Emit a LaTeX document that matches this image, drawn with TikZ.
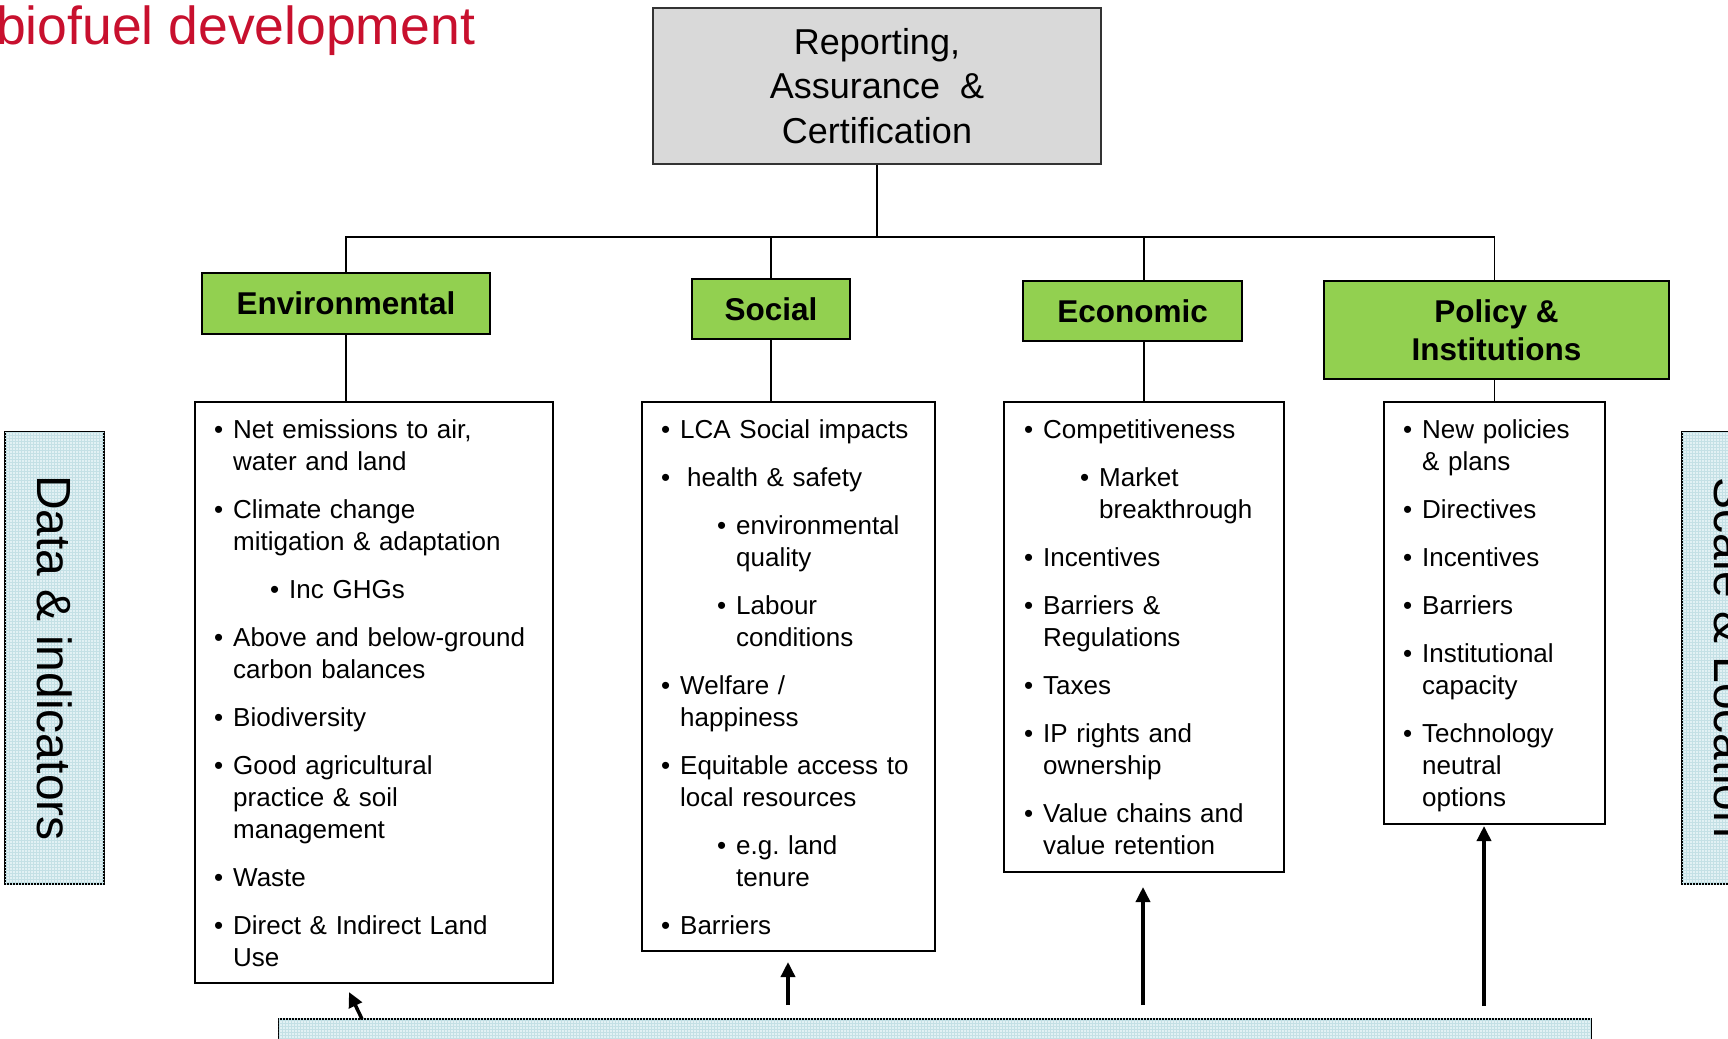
\documentclass[tikz,border=0pt]{standalone}
\usepackage{fontspec}
\setmainfont{Liberation Sans}
\usepackage{tikz}
\usetikzlibrary{positioning,calc,arrows.meta,patterns}

\definecolor{titlered}{RGB}{200,16,46}
\definecolor{headgreen}{RGB}{146,208,80}
\definecolor{topgray}{RGB}{217,217,217}
\definecolor{paleblue}{RGB}{226,241,244}
\definecolor{gridblue}{RGB}{196,224,229}

\newcommand{\lbul}{\leavevmode\llap{\textbullet\hspace{10pt}}}
\newcommand{\subind}{\hspace*{56pt}}

\tikzset{
  topbox/.style={draw=black!80, fill=topgray, line width=1.5pt, align=center,
    font=\fontsize{36}{44.5}\selectfont, inner sep=0pt},
  headbox/.style={draw, fill=headgreen, line width=1.5pt, align=center,
    font=\fontsize{31.5}{38}\selectfont\bfseries, inner sep=0pt},
  listbox/.style={draw, line width=1.5pt, inner sep=0pt, anchor=north west},
  listtext/.style={anchor=base west, inner sep=0pt, text width=330pt, align=left,
    font=\fontsize{26}{32}\selectfont},
  sidebox/.style={draw, line width=1.5pt, fill=paleblue,
    postaction={pattern=grid, pattern color=gridblue}, inner sep=0pt,
    font=\fontsize{48}{56}\selectfont},
  link/.style={line width=1.5pt},
  uparrow/.style={line width=3.5pt, -{Triangle[length=15pt,width=14pt]}},
}

\begin{document}
\begin{tikzpicture}[x=1pt, y=-1pt]
    \useasboundingbox (0,0) rectangle (1728,1038);
    \clip (0,0) rectangle (1728,1038);

    % Title
    \node[anchor=base west, inner sep=0pt, text=titlered,
      font=\fontsize{53.5}{60}\selectfont] (title) at (-4,45) {biofuel development};

    % Top box
    \node[topbox, minimum width=448pt, minimum height=156pt] (report) at (877,86)
      {Reporting,\\Assurance\ \ \&\\Certification};

    % Headers
    \node[headbox, minimum width=288pt, minimum height=61pt] (envhead) at (346,303.5) {Environmental};
    \node[headbox, minimum width=158pt, minimum height=60pt] (sochead) at (771,309) {Social};
    \node[headbox, minimum width=219pt, minimum height=60pt] (ecohead) at (1132.5,311) {Economic};
    \node[headbox, minimum width=345pt, minimum height=98pt] (polhead) at (1496.5,330) {Policy \&\\Institutions};

    % List boxes
    \node[listbox, minimum width=358pt, minimum height=581pt] (envlist) at (194,401) {};
    \node[listbox, minimum width=293pt, minimum height=549pt] (soclist) at (641,401) {};
    \node[listbox, minimum width=280pt, minimum height=470pt] (ecolist) at (1003,401) {};
    \node[listbox, minimum width=221pt, minimum height=422pt] (pollist) at (1383,401) {};

    % Environmental
    \node[listtext] (envtext) at ([shift={(39,37)}]envlist.north west) {%
      \lbul Net emissions to air,\\
      water and land\\[16pt]
      \lbul Climate change\\
      mitigation \& adaptation\\[16pt]
      \subind\lbul Inc GHGs\\[16pt]
      \lbul Above and below-ground\\
      carbon balances\\[16pt]
      \lbul Biodiversity\\[16pt]
      \lbul Good agricultural\\
      practice \& soil\\
      management\\[16pt]
      \lbul Waste\\[16pt]
      \lbul Direct \& Indirect Land\\
      Use};

    % Social
    \node[listtext] (soctext) at ([shift={(39,37)}]soclist.north west) {%
      \lbul LCA Social impacts\\[16pt]
      \lbul\hspace*{7pt}health \& safety\\[16pt]
      \subind\lbul environmental\\
      \subind quality\\[16pt]
      \subind\lbul Labour\\
      \subind conditions\\[16pt]
      \lbul Welfare /\\
      happiness\\[16pt]
      \lbul Equitable access to\\
      local resources\\[16pt]
      \subind\lbul e.g.\ land\\
      \subind tenure\\[16pt]
      \lbul Barriers};

    % Economic
    \node[listtext] (ecotext) at ([shift={(40,37)}]ecolist.north west) {%
      \lbul Competitiveness\\[16pt]
      \subind\lbul Market\\
      \subind breakthrough\\[16pt]
      \lbul Incentives\\[16pt]
      \lbul Barriers \&\\
      Regulations\\[16pt]
      \lbul Taxes\\[16pt]
      \lbul IP rights and\\
      ownership\\[16pt]
      \lbul Value chains and\\
      value retention};

    % Policy
    \node[listtext] (poltext) at ([shift={(39,37)}]pollist.north west) {%
      \lbul New policies\\
      \& plans\\[16pt]
      \lbul Directives\\[16pt]
      \lbul Incentives\\[16pt]
      \lbul Barriers\\[16pt]
      \lbul Institutional\\
      capacity\\[16pt]
      \lbul Technology\\
      neutral\\
      options};

    % Side and bottom boxes
    \node[sidebox, rotate=-90, minimum width=452pt, minimum height=99pt] (data) at (54.5,658) {Data \& indicators};
    \node[sidebox, rotate=-90, minimum width=452pt, minimum height=99pt] (scaleloc) at (1731.5,658) {Scale \& Location};
    \node[sidebox, anchor=north west, minimum width=1312pt, minimum height=80pt] (base) at (278,1018) {};

    % Tree lines
    \coordinate (bus) at (0,237);
    \draw[link] (report.south) -- (report.south |- bus);
    \draw[link] (envhead.north) -- (envhead.north |- bus) -- (pollist.north |- bus)
      -- (pollist.north |- polhead.north);
    \draw[link] (sochead.north |- bus) -- (sochead.north);
    \draw[link] (ecolist.north |- bus) -- (ecolist.north |- ecohead.north);
    \draw[link] (envhead.south) -- (envhead.south |- envlist.north);
    \draw[link] (sochead.south) -- (sochead.south |- soclist.north);
    \draw[link] (ecolist.north |- ecohead.south) -- (ecolist.north);
    \draw[link] (pollist.north |- polhead.south) -- (pollist.north);

    % Arrows up from the base
    \coordinate (envtail) at (362,1019);
    \coordinate (envtip) at (349,992);
    \coordinate (soctail) at (788,1005);
    \coordinate (soctip) at (788,962);
    \coordinate (ecotail) at (1143,1005);
    \coordinate (ecotip) at (1143,887);
    \coordinate (poltail) at (1484,1006);
    \coordinate (poltip) at (1484,826);
    \draw[uparrow] (envtail) -- (envtip);
    \draw[uparrow] (soctail) -- (soctip);
    \draw[uparrow] (ecotail) -- (ecotip);
    \draw[uparrow] (poltail) -- (poltip);
\end{tikzpicture}
\end{document}
